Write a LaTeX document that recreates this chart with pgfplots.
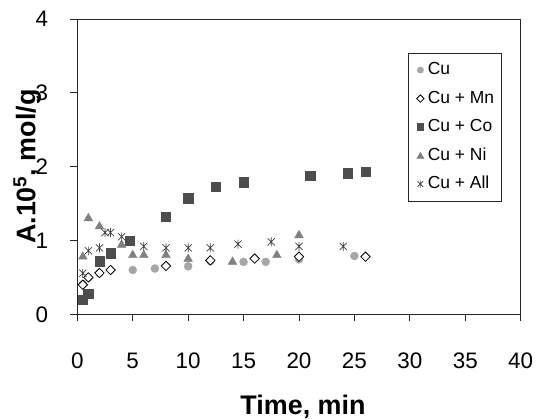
\documentclass[border=0pt]{standalone}
\usepackage{fontspec}
\setmainfont{Liberation Sans}
\usepackage{pgfplots}
\pgfplotsset{compat=1.18}
\usepackage{xcolor}
\definecolor{cuGray}{HTML}{A6A6A6}
\definecolor{coGray}{HTML}{4D4D4D}
\definecolor{niGray}{HTML}{808080}
\definecolor{allGray}{HTML}{404040}

% X with a vertical bar, like the spreadsheet asterisk
\pgfdeclareplotmark{xast}{%
  \pgfpathmoveto{\pgfqpoint{0pt}{\pgfplotmarksize}}%
  \pgfpathlineto{\pgfqpoint{0pt}{-\pgfplotmarksize}}%
  \pgfpathmoveto{\pgfqpoint{-.8\pgfplotmarksize}{.8\pgfplotmarksize}}%
  \pgfpathlineto{\pgfqpoint{.8\pgfplotmarksize}{-.8\pgfplotmarksize}}%
  \pgfpathmoveto{\pgfqpoint{-.8\pgfplotmarksize}{-.8\pgfplotmarksize}}%
  \pgfpathlineto{\pgfqpoint{.8\pgfplotmarksize}{.8\pgfplotmarksize}}%
  \pgfusepathqstroke}

% legend marker: size, vertical offset
\pgfplotsset{legsz/.style 2 args={legend image code/.code={%
  \path (0bp,0bp) (11bp,0bp);
  \draw[##1, mark size=#1] plot coordinates {(5bp,#2)};}}}

\begin{document}
\begin{tikzpicture}
\path[use as bounding box] (0,0) rectangle (538bp,420bp);
\begin{axis}[
    at={(77.3bp,105.7bp)}, anchor=south west,
    scale only axis,
    width=443.4bp, height=295.3bp,
    xmin=0, xmax=40, ymin=0, ymax=4,
    xtick={0,5,...,40}, ytick={0,1,2,3,4},
    tick align=outside,
    major tick length=7bp,
    xtick pos=bottom, ytick pos=left,
    axis line style={black!85, line width=0.8bp},
    tick style={black!85, line width=0.8bp},
    /pgf/number format/assume math mode=true,
    tick label style={font=\fontsize{22.5}{26}\selectfont},
    xticklabel style={anchor=base, inner sep=0pt, yshift=-47.4bp},
    yticklabel style={anchor=east, inner sep=0pt, xshift=-22bp},
    xlabel={\textbf{Time, min}},
    ylabel={\textbf{A.10\textsuperscript{5}, mol/g}},
    xlabel style={font=\fontsize{27}{30}\selectfont, at={(axis description cs:0.509,-0.341)}, anchor=base},
    ylabel style={font=\fontsize{27}{30}\selectfont, at={(axis description cs:-0.113,0.5)}, anchor=center},
    clip=false,
    legend cell align=left,
    legend style={
        at={(axis description cs:0.746,0.886)}, anchor=north west,
        draw=black!85, line width=0.8bp,
        font=\fontsize{17.5}{20}\selectfont,
        inner xsep=6.5bp, inner ysep=8bp,
        row sep=10.5bp, column sep=0bp,
        nodes={inner sep=1bp, text height=12.5bp, text depth=3.5bp},
    },
]
\addplot[only marks, mark=*, mark size=4bp, draw=cuGray, fill=cuGray, legsz={3bp}{0bp}]
coordinates {(0.5,0.41) (1,0.50) (2,0.555) (5,0.60) (7,0.62) (10,0.65) (12,0.72) (15,0.71) (17,0.71) (20,0.745) (25,0.79)};
\addlegendentry{Cu}

\addplot[only marks, mark=square*, mark size=3.3bp, draw=black, fill=white, line width=0.8bp,
    mark options={rotate=45}, legsz={2.6bp}{0bp}]
coordinates {(0.5,0.40) (1,0.50) (2,0.56) (3,0.60) (8,0.655) (12,0.73) (16,0.755) (20,0.78) (26,0.78)};
\addlegendentry{Cu + Mn}

\addplot[only marks, mark=square*, mark size=4.7bp, draw=coGray, fill=coGray, legsz={3.3bp}{0bp}]
coordinates {(0.5,0.20) (1,0.28) (2,0.72) (3,0.83) (4.7,1.0) (8,1.32) (10,1.57) (12.5,1.73) (15,1.79) (21,1.88) (24.4,1.91) (26,1.93)};
\addlegendentry{Cu + Co}

\addplot[only marks, mark=triangle*, mark size=5bp, draw=niGray, fill=niGray, legsz={3.8bp}{-0.8bp}]
coordinates {(0.5,0.78) (1,1.30) (2,1.19) (4,0.94) (5,0.80) (6,0.80) (8,0.80) (10,0.75) (14,0.71) (18,0.80) (20,1.07)};
\addlegendentry{Cu + Ni}

\addplot[only marks, mark=xast, mark size=4.5bp, draw=allGray, line width=0.7bp, legsz={3.5bp}{0bp}]
coordinates {(0.5,0.555) (1,0.86) (2,0.90) (2.5,1.107) (3,1.107) (4,1.05) (6,0.92) (8,0.90) (10,0.90) (12,0.90) (14.5,0.95) (17.5,0.98) (20,0.92) (24,0.92)};
\addlegendentry{Cu + All}
\end{axis}
\end{tikzpicture}
\end{document}
